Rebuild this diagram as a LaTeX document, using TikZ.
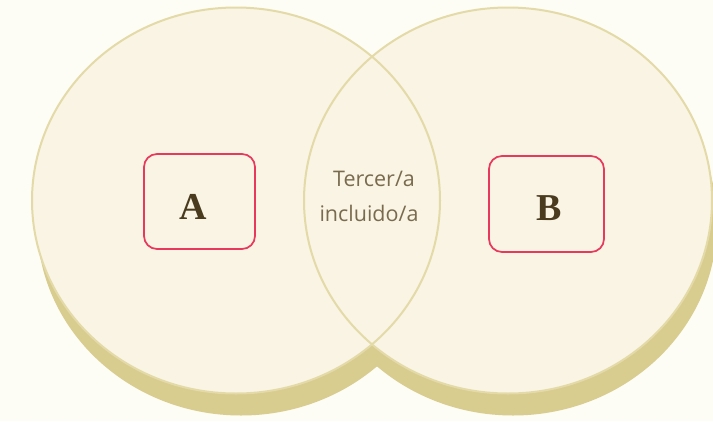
\documentclass[tikz,border=0pt]{standalone}
\usepackage{fontspec}
\setmainfont{Liberation Serif}
\newfontfamily\lensfont{Open Sans}
\definecolor{bgc}{HTML}{FDFDF6}
\definecolor{fillc}{HTML}{F9F4E4}
\definecolor{linec}{HTML}{E4DAA8}
\definecolor{shc}{HTML}{D8CC8F}
\definecolor{boxc}{HTML}{E8385C}
\definecolor{lblc}{HTML}{4A3B1F}
\definecolor{lensc}{HTML}{7A6B4E}
\begin{document}
\begin{tikzpicture}[x=1pt,y=-1pt,
  shadowstyle/.style={fill=shc},
  fillstyle/.style={fill=fillc},
  outlinestyle/.style={draw=linec, line width=2pt},
  rbox/.style={draw=boxc, line width=1.7pt, rounded corners=13pt, inner sep=0pt},
  lbl/.style={text=lblc, font=\bfseries\fontsize{38}{38}\selectfont, inner sep=0pt, anchor=base},
  lens/.style={text=lensc, font=\lensfont\fontsize{21.5}{21.5}\selectfont, inner sep=0pt, anchor=base}]
\fill[bgc] (0,0) rectangle (713,421);
\useasboundingbox (0,0) rectangle (713,421);
\clip (0,0) rectangle (713,421);
% shadows
\fill[shadowstyle] (241,222.5) ellipse [x radius=204pt, y radius=193pt];
\fill[shadowstyle] (513,222.5) ellipse [x radius=204pt, y radius=193pt];
% fills
\fill[fillstyle] (236,200.5) ellipse [x radius=204pt, y radius=193pt];
\fill[fillstyle] (508,200.5) ellipse [x radius=204pt, y radius=193pt];
% outlines
\draw[outlinestyle] (236,200.5) ellipse [x radius=204pt, y radius=193pt];
\draw[outlinestyle] (508,200.5) ellipse [x radius=204pt, y radius=193pt];
% boxes
\node[rbox, minimum width=111pt, minimum height=95pt] (boxA) at (199.5,201.5) {};
\node[rbox, minimum width=115pt, minimum height=96pt] (boxB) at (546.5,204) {};
% labels
\node[lbl] (labA) at (193,219) {A};
\node[lbl] (labB) at (549,220) {B};
\node[lens] (lens1) at (374,186) {Tercer/a};
\node[lens] (lens2) at (369,221) {incluido/a};
\end{tikzpicture}
\end{document}
